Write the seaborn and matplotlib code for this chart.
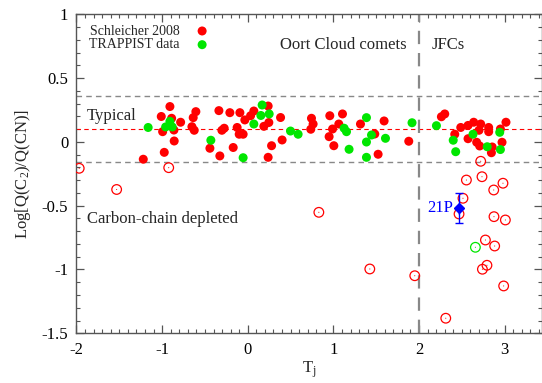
import matplotlib
matplotlib.use("Agg")
import matplotlib.pyplot as plt
import seaborn as sns
from matplotlib.ticker import MultipleLocator

# Schleicher 2008, typical composition (filled red)
sch_tj = [-1.22, -1.01, -0.909, -0.889, -0.784, -0.994, -0.862, -0.859, -0.975, -0.606,
          -0.637, -0.652, -0.625, -0.337, -0.209, -0.275, -0.302, -0.124, -0.442, -0.326,
          -0.170, -0.100, -0.054, -0.092, 0.071, 0.033, -0.034, 0.238, 0.246, 0.188,
          0.383, 0.401, 0.278, 0.238, 0.744, 0.763, 0.736, 0.950, 0.958, 1.106,
          1.063, 0.990, 1.005, 1.316, 1.592, 1.483, 1.522, 1.880,
          2.261, 2.300, 2.487, 2.417, 2.572, 2.638, 2.720, 2.700, 2.813, 2.813,
          3.015, 2.950, 2.572, 2.673, 2.708, 2.854, 2.845, 2.969]
sch_ratio = [-0.136, 0.199, 0.277, 0.185, 0.154, 0.080, 0.093, 0.007, -0.082, 0.237,
             0.190, 0.119, 0.091, 0.245, 0.229, 0.107, 0.091, 0.113, -0.050, -0.110,
             -0.044, 0.060, 0.060, 0.229, 0.242, 0.205, 0.172, 0.281, 0.152, 0.122,
             0.191, 0.015, -0.030, -0.121, 0.185, 0.140, 0.099, 0.041, 0.205, 0.219,
             0.140, 0.101, -0.030, 0.140, 0.164, 0.062, -0.097, 0.005,
             0.197, 0.219, 0.113, 0.060, 0.129, 0.154, 0.140, 0.091, 0.113, 0.080,
             0.154, 0.101, 0.025, -0.003, -0.032, -0.040, -0.085, -0.003]

# TRAPPIST, typical composition (filled green)
tra_tj = [-1.163, -0.909, -0.959, -0.882, -0.431, 0.168, 0.153, 0.250, 0.071, 0.499,
          0.588, -0.054, 1.386, 1.125, 1.153, 1.445, 1.386, 1.608, 1.183, 1.386,
          1.918, 2.203, 2.399, 2.428, 2.630, 2.796, 2.942, 2.950]
tra_ratio = [0.113, 0.161, 0.117, 0.117, 0.013, 0.289, 0.207, 0.219, 0.140, 0.085,
             0.060, -0.124, 0.190, 0.107, 0.080, 0.054, -0.001, 0.028, -0.058, -0.121,
             0.150, 0.127, 0.013, -0.077, 0.060, -0.038, 0.075, -0.060]

# carbon-chain depleted (open circles)
sch_dep_tj = [-1.968, -1.531, -0.923, 0.830, 1.425, 1.950, 2.312, 2.720, 2.735, 2.553,
              2.980, 2.872, 2.513, 2.467, 2.875, 3.008, 2.775, 2.883, 2.793, 2.740, 2.988]
sch_dep_ratio = [-0.207, -0.373, -0.202, -0.552, -0.996, -1.049, -1.382, -0.152, -0.273, -0.299,
                 -0.324, -0.377, -0.442, -0.565, -0.586, -0.612, -0.769, -0.816, -0.967, -0.998, -1.129]
tra_dep_tj = [2.658]
tra_dep_ratio = [-0.826]

# comet 21P/Giacobini-Zinner
p21_tj = [2.467]
p21_ratio = [-0.520]
p21_err = [0.117]

typical_levels = [0.36, 0.10, -0.16]

sns.set_theme(style="ticks")
plt.rcParams["font.family"] = ["Liberation Serif", "DejaVu Serif"]
plt.rcParams["mathtext.fontset"] = "custom"
plt.rcParams["mathtext.rm"] = "Liberation Serif"
plt.rcParams["mathtext.it"] = "Liberation Serif:italic"

red = "#ff0000"
green = "#00e600"
frame = "#555555"

fig = plt.figure(figsize=(5.42, 3.83), dpi=100)
ax = fig.add_axes([0.1411, 0.1298, 0.858, 0.8329])

# reference lines
ax.axhline(typical_levels[0], color="#888888", lw=1.0, ls=(0, (4, 3)), zorder=1)
ax.axhline(typical_levels[1], color=red, lw=0.8, ls=(0, (4, 3)), zorder=1)
ax.axhline(typical_levels[2], color="#888888", lw=1.0, ls=(0, (4, 3)), zorder=1)
ax.axvline(2.0, color="#888888", lw=1.6, ls=(0, (6, 4)), zorder=1)

sns.scatterplot(x=sch_tj, y=sch_ratio, ax=ax, color=red, s=42, edgecolor="none",
                label="Schleicher 2008", zorder=3)
sns.scatterplot(x=tra_tj, y=tra_ratio, ax=ax, color=green, s=42, edgecolor="none",
                label="TRAPPIST data", zorder=3)
sns.scatterplot(x=sch_dep_tj, y=sch_dep_ratio, ax=ax, facecolor="none", edgecolor=red,
                linewidth=0.9, s=48, legend=False, zorder=3)
sns.scatterplot(x=sch_dep_tj, y=sch_dep_ratio, ax=ax, color=red, s=0.6, edgecolor="none",
                legend=False, zorder=3)
sns.scatterplot(x=tra_dep_tj, y=tra_dep_ratio, ax=ax, facecolor="none", edgecolor=green,
                linewidth=0.9, s=48, legend=False, zorder=3)
sns.scatterplot(x=tra_dep_tj, y=tra_dep_ratio, ax=ax, color=green, s=0.6, edgecolor="none",
                legend=False, zorder=3)

ax.errorbar(p21_tj, p21_ratio, yerr=p21_err, fmt="D", color="#0000ff", ms=5,
            elinewidth=1.0, capsize=3, zorder=4)
ax.text(p21_tj[0] - 0.07, p21_ratio[0], "21P", color="#0000ff", fontsize=12,
        ha="right", va="center")

ax.text(0.375, 0.76, "Oort Cloud comets", fontsize=12, va="center")
ax.text(2.148, 0.76, "JFCs", fontsize=12, va="center")
ax.text(-1.877, 0.203, "Typical", fontsize=12, va="center")
ax.text(-1.875, -0.607, "Carbon-chain depleted", fontsize=12, va="center")

ax.set_xlim(-2, 3.43)
ax.set_ylim(-1.5, 1)
ax.xaxis.set_major_locator(MultipleLocator(1))
ax.xaxis.set_minor_locator(MultipleLocator(0.1))
ax.yaxis.set_major_locator(MultipleLocator(0.5))
ax.yaxis.set_minor_locator(MultipleLocator(0.1))
ax.set_xticks([-2, -1, 0, 1, 2, 3])
ax.set_xticklabels(["-2", "-1", "0", "1", "2", "3"])
ax.set_yticks([-1.5, -1, -0.5, 0, 0.5, 1])
ax.set_yticklabels(["-1.5", "-1", "-0.5", "0", "0.5", "1"])
ax.tick_params(which="both", direction="in", top=True, right=True, color=frame,
               labelsize=12, labelcolor="black")
ax.tick_params(which="major", length=6, width=0.9, pad=6)
ax.tick_params(which="minor", length=3, width=0.8)
for sp in ax.spines.values():
    sp.set_color(frame)
    sp.set_linewidth(1.0)

ax.set_xlabel("T$_\\mathrm{j}$", fontsize=12, labelpad=1)
ax.set_ylabel("Log[Q(C$_\\mathrm{2}$)/Q(CN)]", fontsize=12, labelpad=6)

ax.legend(loc="upper right", bbox_to_anchor=(0.312, 0.985), borderaxespad=0,
          frameon=False, markerfirst=False, fontsize=10, labelspacing=0.05,
          handletextpad=0.6, borderpad=0.4)

fig.savefig("out.png", dpi=100)
